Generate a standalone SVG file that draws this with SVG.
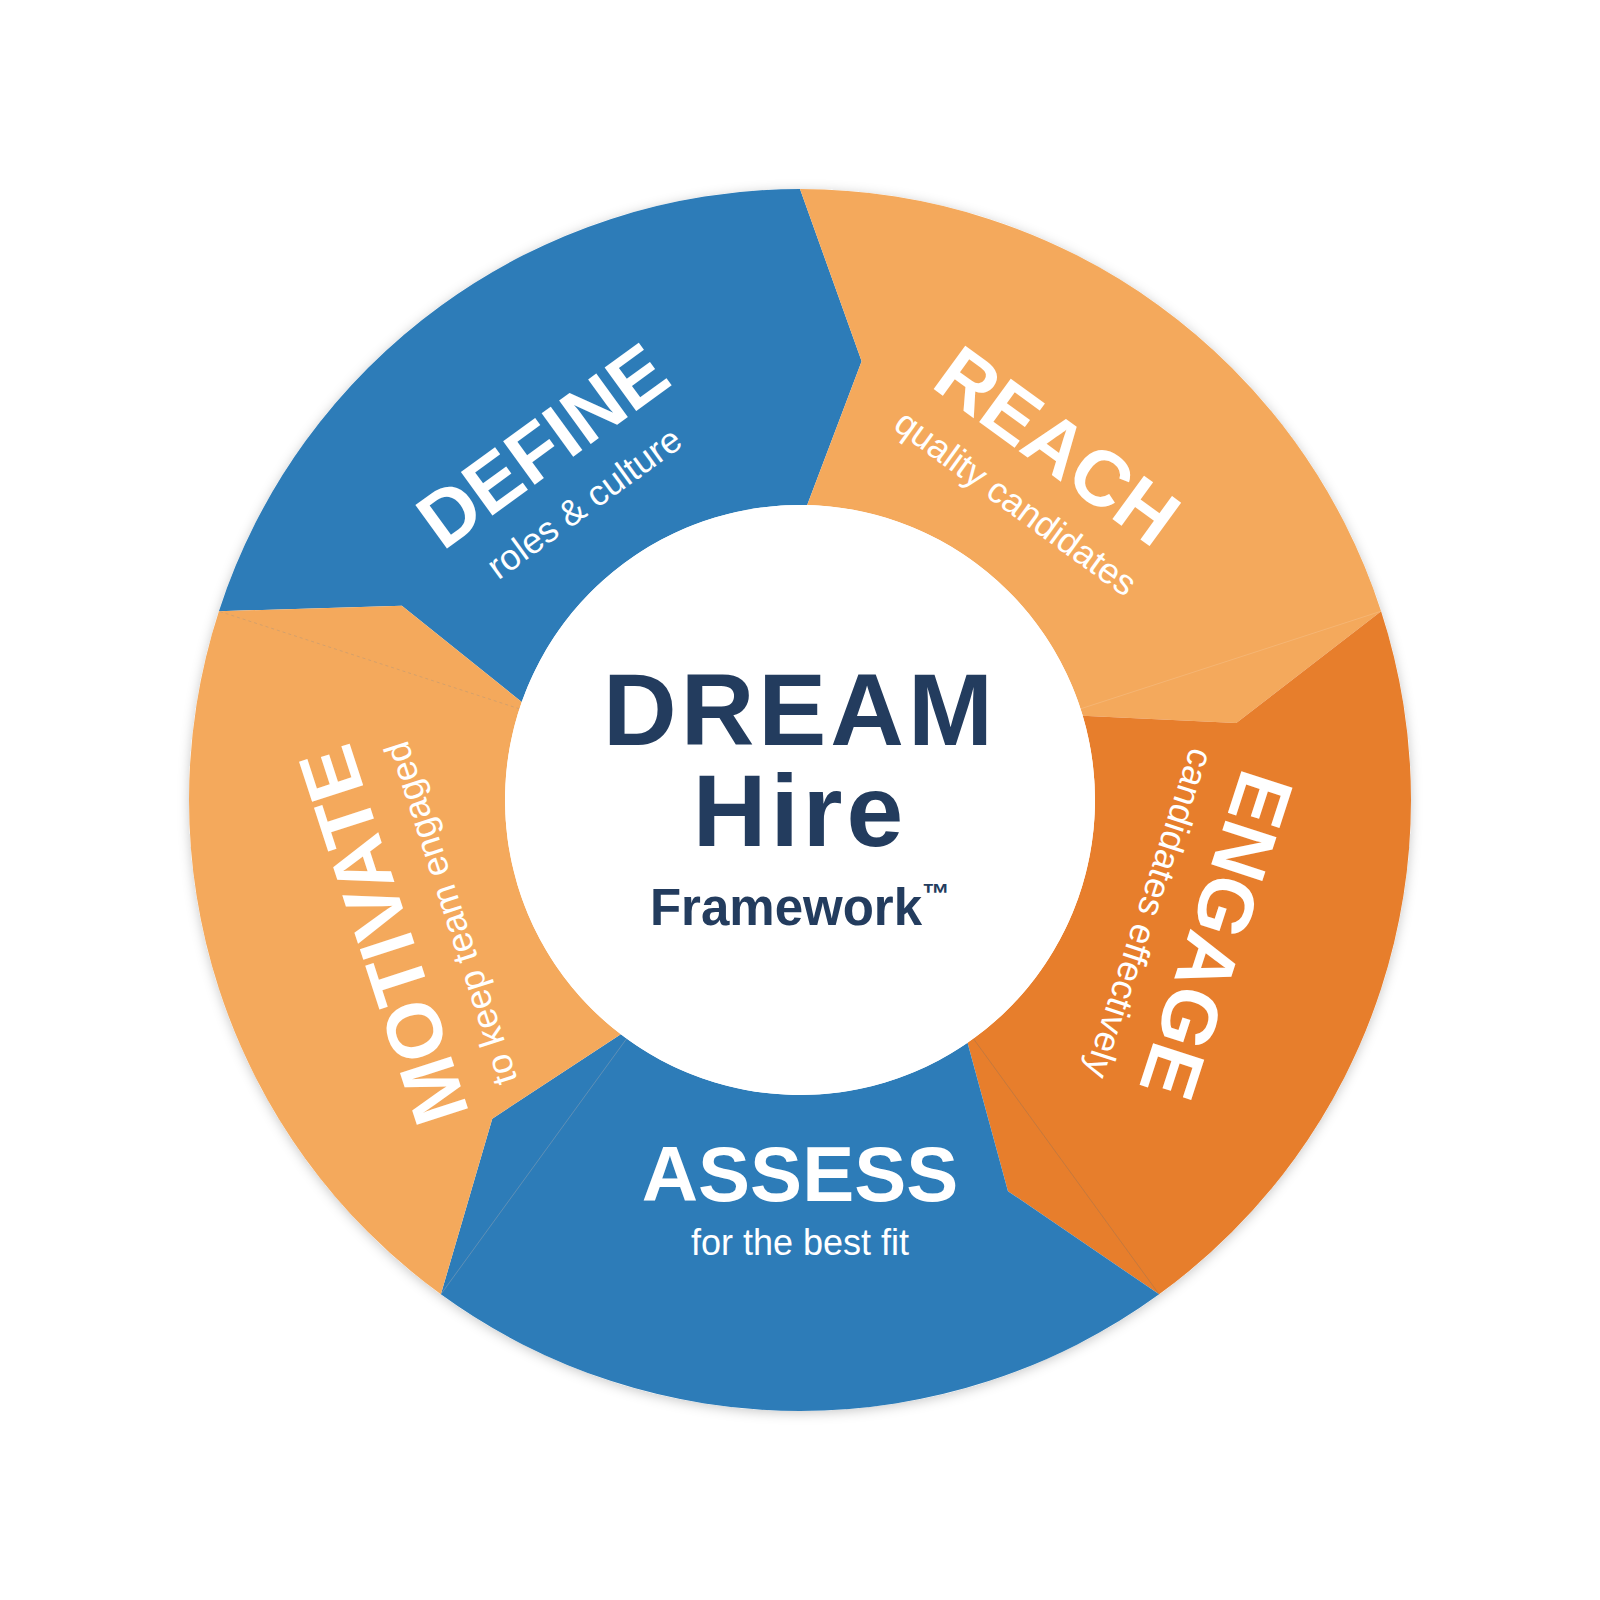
<svg xmlns="http://www.w3.org/2000/svg" width="1600" height="1600" viewBox="0 0 1600 1600">
<defs>
<filter id="shadow" x="-10%" y="-10%" width="120%" height="120%">
<feDropShadow dx="0" dy="2" stdDeviation="6" flood-color="#000" flood-opacity="0.22"/>
</filter>
<style>
.title{font-family:"Liberation Sans",Arial,sans-serif;font-weight:bold;font-size:78px;fill:#ffffff;text-anchor:middle}
.sub{font-family:"Liberation Sans",Arial,sans-serif;font-size:36px;fill:#ffffff;text-anchor:middle}
.blue{fill:#2D7CB8}
.light{fill:#F4A95C}
.dark{fill:#E77E2C}
.hub{font-family:"Liberation Sans",Arial,sans-serif;font-weight:bold;fill:#233C5E;text-anchor:middle}
.seam{fill:none;stroke-width:1}
</style>
</defs>
<rect width="1600" height="1600" fill="#ffffff"/>
<circle cx="800" cy="800" r="611" fill="#ffffff" filter="url(#shadow)"/>

<g id="define">
<path class="blue" d="M 218.90 611.19 A 611 611 0 0 1 800 189 L 861.65 361.31 L 807.21 505.09 A 295 295 0 0 0 521.75 702.01 L 401.83 605.80 Z"/>
<text class="title" transform="translate(558.42 467.49) rotate(-36)">DEFINE</text>
<text class="sub" transform="translate(591.34 512.80) rotate(-36)">roles &amp; culture</text>
</g>

<g id="reach">
<path class="light" d="M 800 189 A 611 611 0 0 1 1381.10 611.19 L 1236.27 723.07 L 1082.71 715.72 A 295 295 0 0 0 807.21 505.09 L 861.65 361.31 Z"/>
<text class="title" transform="translate(1041.58 467.49) rotate(36)">REACH</text>
<text class="sub" transform="translate(1008.66 512.80) rotate(36)">quality candidates</text>
</g>

<g id="engage">
<path class="dark" d="M 1381.10 611.19 A 611 611 0 0 1 1159.14 1294.31 L 1007.98 1191.15 L 967.51 1042.83 A 295 295 0 0 0 1082.71 715.72 L 1236.27 723.07 Z"/>
<text class="title" transform="translate(1190.88 927.01) rotate(108)">ENGAGE</text>
<text class="sub" transform="translate(1137.63 909.70) rotate(108)">candidates effectively</text>
</g>

<g id="assess">
<path class="blue" d="M 1159.14 1294.31 A 611 611 0 0 1 440.86 1294.31 L 492.27 1118.67 L 620.82 1034.35 A 295 295 0 0 0 967.51 1042.83 L 1007.98 1191.15 Z"/>
<text class="title" x="800" y="1201">ASSESS</text>
<text class="sub" x="800" y="1255">for the best fit</text>
</g>

<g id="motivate">
<path class="light" d="M 440.86 1294.31 A 611 611 0 0 1 218.90 611.19 L 401.83 605.80 L 521.75 702.01 A 295 295 0 0 0 620.82 1034.35 L 492.27 1118.67 Z"/>
<text class="title" transform="translate(409.12 927.01) rotate(-108)">MOTIVATE</text>
<text class="sub" transform="translate(462.37 909.70) rotate(-108)">to keep team engaged</text>
</g>

<g id="seams">
<line class="seam" x1="1080.56" y1="708.84" x2="1381.10" y2="611.19" stroke="#ffffff" stroke-opacity="0.14"/>
<line class="seam" x1="973.40" y1="1038.66" x2="1159.14" y2="1294.31" stroke="#6b6b6b" stroke-opacity="0.28"/>
<line class="seam" x1="626.60" y1="1038.66" x2="440.86" y2="1294.31" stroke="#9aa7b3" stroke-opacity="0.45"/>
<line class="seam" x1="519.44" y1="708.84" x2="218.90" y2="611.19" stroke="#8a8a8a" stroke-opacity="0.3" stroke-dasharray="3 3"/>
</g>

<g id="hub">
<circle cx="800" cy="800" r="295" fill="#ffffff"/>
<text class="hub" font-size="102" letter-spacing="4"><tspan x="800" y="745">DREAM</tspan><tspan x="800" y="845.5">Hire</tspan></text>
<text class="hub" x="800" y="925" font-size="51">Framework<tspan font-size="28" dy="-22">™</tspan></text>
</g>
</svg>
